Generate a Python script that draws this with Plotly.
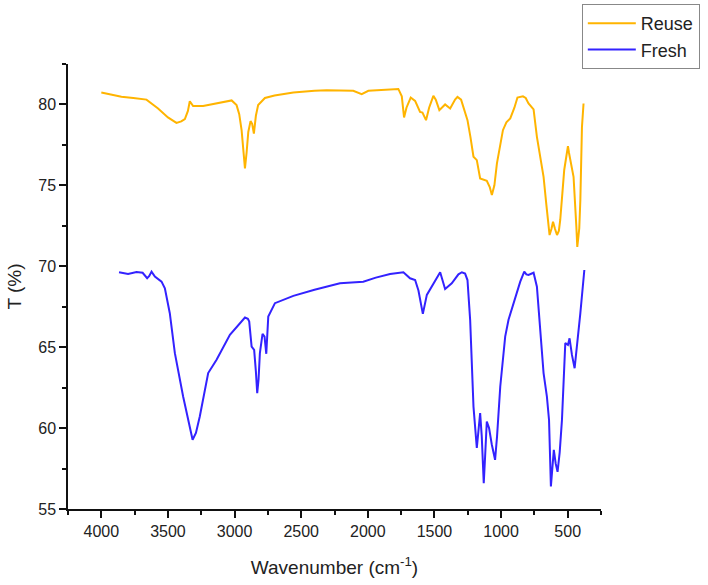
import plotly.graph_objects as go

# FTIR spectra
reuse_wn = [4000, 3920, 3849, 3760, 3661, 3574, 3500, 3436, 3400, 3373, 3350, 3336, 3311,
            3236, 3110, 3022, 2985, 2965, 2947, 2930, 2922, 2910, 2897, 2880, 2868, 2855,
            2840, 2823, 2772, 2700, 2559, 2400, 2309, 2109, 2046, 1996, 1908, 1833, 1771,
            1745, 1728, 1710, 1678, 1645, 1608, 1590, 1563, 1540, 1508, 1490, 1463, 1420,
            1382, 1345, 1327, 1300, 1252, 1230, 1207, 1182, 1157, 1107, 1085, 1069, 1050,
            1031, 986, 960, 931, 900, 877, 836, 815, 794, 756, 731, 700, 681, 660, 636,
            622, 610, 595, 580, 566, 556, 540, 526, 510, 498, 490, 481, 456, 435, 428,
            420, 413, 405, 393, 381]
reuse_t = [80.74, 80.6, 80.47, 80.4, 80.3, 79.75, 79.2, 78.86, 78.95, 79.1, 79.6, 80.2, 79.9,
           79.9, 80.1, 80.25, 79.96, 79.4, 78.4, 76.8, 76.05, 77.0, 78.3, 78.97, 78.8, 78.2,
           79.3, 79.96, 80.4, 80.55, 80.74, 80.85, 80.88, 80.84, 80.64, 80.84, 80.88, 80.96, 80.96,
           80.5, 79.2, 79.8, 80.43, 80.22, 79.54, 79.5, 79.03, 79.8, 80.53, 80.3, 79.65, 80.0,
           79.75, 80.3, 80.47, 80.3, 79.03, 78.0, 76.77, 76.56, 75.43, 75.28, 74.9, 74.4, 75.0,
           76.36, 78.41, 78.9, 79.14, 79.8, 80.43, 80.5, 80.4, 80.06, 79.69, 78.0, 76.5, 75.53, 73.8, 71.93,
           72.3, 72.75, 72.3, 71.93, 72.2, 72.86, 74.5, 75.95, 76.8, 77.43, 77.0, 76.56, 75.53, 72.45, 71.2,
           71.8, 72.35, 74.1, 78.6, 80.06]

fresh_wn = [3867, 3799, 3736, 3690, 3656, 3640, 3623, 3598, 3548, 3523, 3486, 3448, 3386,
            3350, 3315, 3290, 3261, 3198, 3135, 3035, 2960, 2922, 2900, 2890, 2872, 2853,
            2840, 2830, 2820, 2810, 2790, 2775, 2762, 2747, 2697, 2559, 2400, 2309, 2209,
            2034, 1940, 1833, 1733, 1683, 1645, 1620, 1587, 1557, 1520, 1490, 1457, 1420,
            1370, 1320, 1294, 1270, 1252, 1232, 1207, 1182, 1170, 1157, 1145, 1130, 1120,
            1107, 1090, 1070, 1045, 1030, 1006, 969, 944, 907, 856, 826, 810, 794, 756,
            731, 706, 681, 656, 640, 626, 615, 604, 590, 576, 560, 543, 518, 498, 486,
            468, 448, 430, 405, 375]
fresh_t = [69.63, 69.52, 69.65, 69.6, 69.26, 69.4, 69.67, 69.36, 69.05, 68.64, 67.1, 64.63, 61.95,
           60.5, 59.28, 59.7, 60.72, 63.4, 64.22, 65.76, 66.5, 66.83, 66.75, 66.58, 65.04, 64.83,
           63.5, 62.16, 63.0, 64.63, 65.82, 65.65, 64.59, 66.89, 67.72, 68.17, 68.55, 68.74, 68.95,
           69.05, 69.3, 69.52, 69.63, 69.26, 69.15, 68.5, 67.06, 68.23, 68.74, 69.2, 69.63, 68.6,
           68.95, 69.5, 69.63, 69.55, 69.15, 66.69, 61.33, 58.77, 60.0, 60.93, 59.5, 56.6, 58.2,
           60.41, 60.0, 59.0, 58.04, 59.5, 62.57, 65.65, 66.69, 67.72, 69.05, 69.67, 69.5, 69.46, 69.6,
           68.74, 65.86, 63.4, 61.95, 60.5, 56.4, 57.6, 58.66, 57.8, 57.3, 58.5, 60.51, 65.25, 65.14, 65.55,
           64.52, 63.7, 65.04, 67.1, 69.77]

FONT = "Liberation Sans, Arial, sans-serif"

fig = go.Figure()
fig.add_trace(go.Scatter(x=reuse_wn, y=reuse_t, mode="lines", name="Reuse",
                         line=dict(color="#FFB400", width=2)))
fig.add_trace(go.Scatter(x=fresh_wn, y=fresh_t, mode="lines", name="Fresh",
                         line=dict(color="#3322FF", width=2)))

axis_common = dict(showline=True, linecolor="#111", linewidth=1.5, showgrid=False,
                   zeroline=False, ticks="outside", ticklen=7, tickwidth=1.5,
                   tickcolor="#111", automargin=False,
                   tickfont=dict(family=FONT, size=16, color="#222"))

fig.update_xaxes(range=[4250, 250], tickvals=[4000, 3500, 3000, 2500, 2000, 1500, 1000, 500],
                 minor=dict(ticks="outside", ticklen=4, tickwidth=1.5, tickcolor="#111", dtick=250,
                            tick0=250),
                 title=dict(text="Wavenumber (cm<sup>-1</sup>)", standoff=22,
                            font=dict(family=FONT, size=19, color="#222")),
                 **axis_common)
fig.update_yaxes(range=[55, 82.5], tickvals=[55, 60, 65, 70, 75, 80],
                 minor=dict(ticks="outside", ticklen=4, tickwidth=1.5, tickcolor="#111", dtick=2.5,
                            tick0=55),
                 title=dict(text="T (%)", standoff=12,
                            font=dict(family=FONT, size=19, color="#222")),
                 **axis_common)

fig.update_layout(
    width=708, height=585,
    margin=dict(l=68, r=107, t=64, b=76, autoexpand=False),
    paper_bgcolor="white", plot_bgcolor="white",
    legend=dict(x=0.964, y=1.135, xanchor="left", yanchor="top",
                bordercolor="#888", borderwidth=1, bgcolor="white",
                font=dict(family=FONT, size=18, color="#222"),
                tracegroupgap=0, itemwidth=48),
    showlegend=True,
)

# drop the default 8px body margin so the figure sits at the window corner
fig.write_html("out.html", config={"displayModeBar": False},
               post_script="document.body.style.margin='0';")
